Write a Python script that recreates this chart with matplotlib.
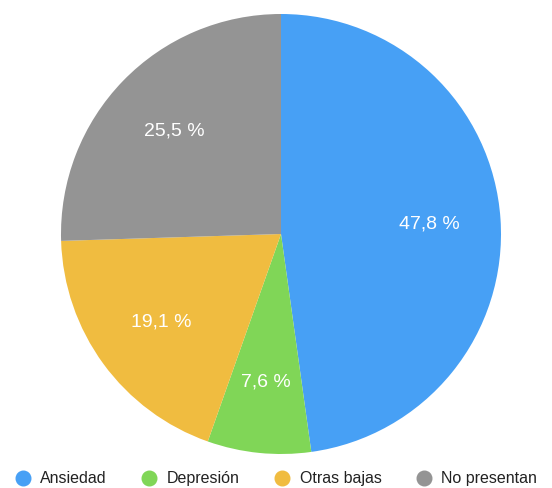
import matplotlib
matplotlib.use("Agg")
import matplotlib.pyplot as plt
from matplotlib.lines import Line2D

# data
categorias = ["Ansiedad", "Depresión", "Otras bajas", "No presentan"]
porcentajes = [47.8, 7.6, 19.1, 25.5]
colores = ["#47A0F5", "#80D657", "#F0BC40", "#949494"]

plt.rcParams['font.family'] = ['Liberation Sans', 'DejaVu Sans']


def fmt(p):
    return ("%.1f" % p).replace(".", ",") + " %"


fig = plt.figure(figsize=(5.52, 4.88), dpi=100)
ax = fig.add_axes([60 / 552, 34 / 488, 442 / 552, 440 / 488])

wedges, texts, autotexts = ax.pie(
    porcentajes, colors=colores, startangle=90, counterclock=False,
    autopct=fmt, pctdistance=0.675, radius=1,
    wedgeprops=dict(linewidth=0),
    textprops=dict(color="white", fontsize=14),
)
ax.set_xlim(-1, 1)
ax.set_ylim(-1, 1)
ax.set_aspect("equal")
ax.axis("off")

handles = [Line2D([0], [0], marker="o", linestyle="", markersize=10.5,
                  markerfacecolor=c, markeredgecolor=c) for c in colores]
fig.legend(handles, categorias, loc="lower center", ncol=4,
           bbox_to_anchor=(0.5, -0.026), frameon=False, fontsize=11.5,
           handlelength=1, handletextpad=0.6, columnspacing=2.15,
           labelcolor="#222222")

plt.savefig("out.png", dpi=100)
